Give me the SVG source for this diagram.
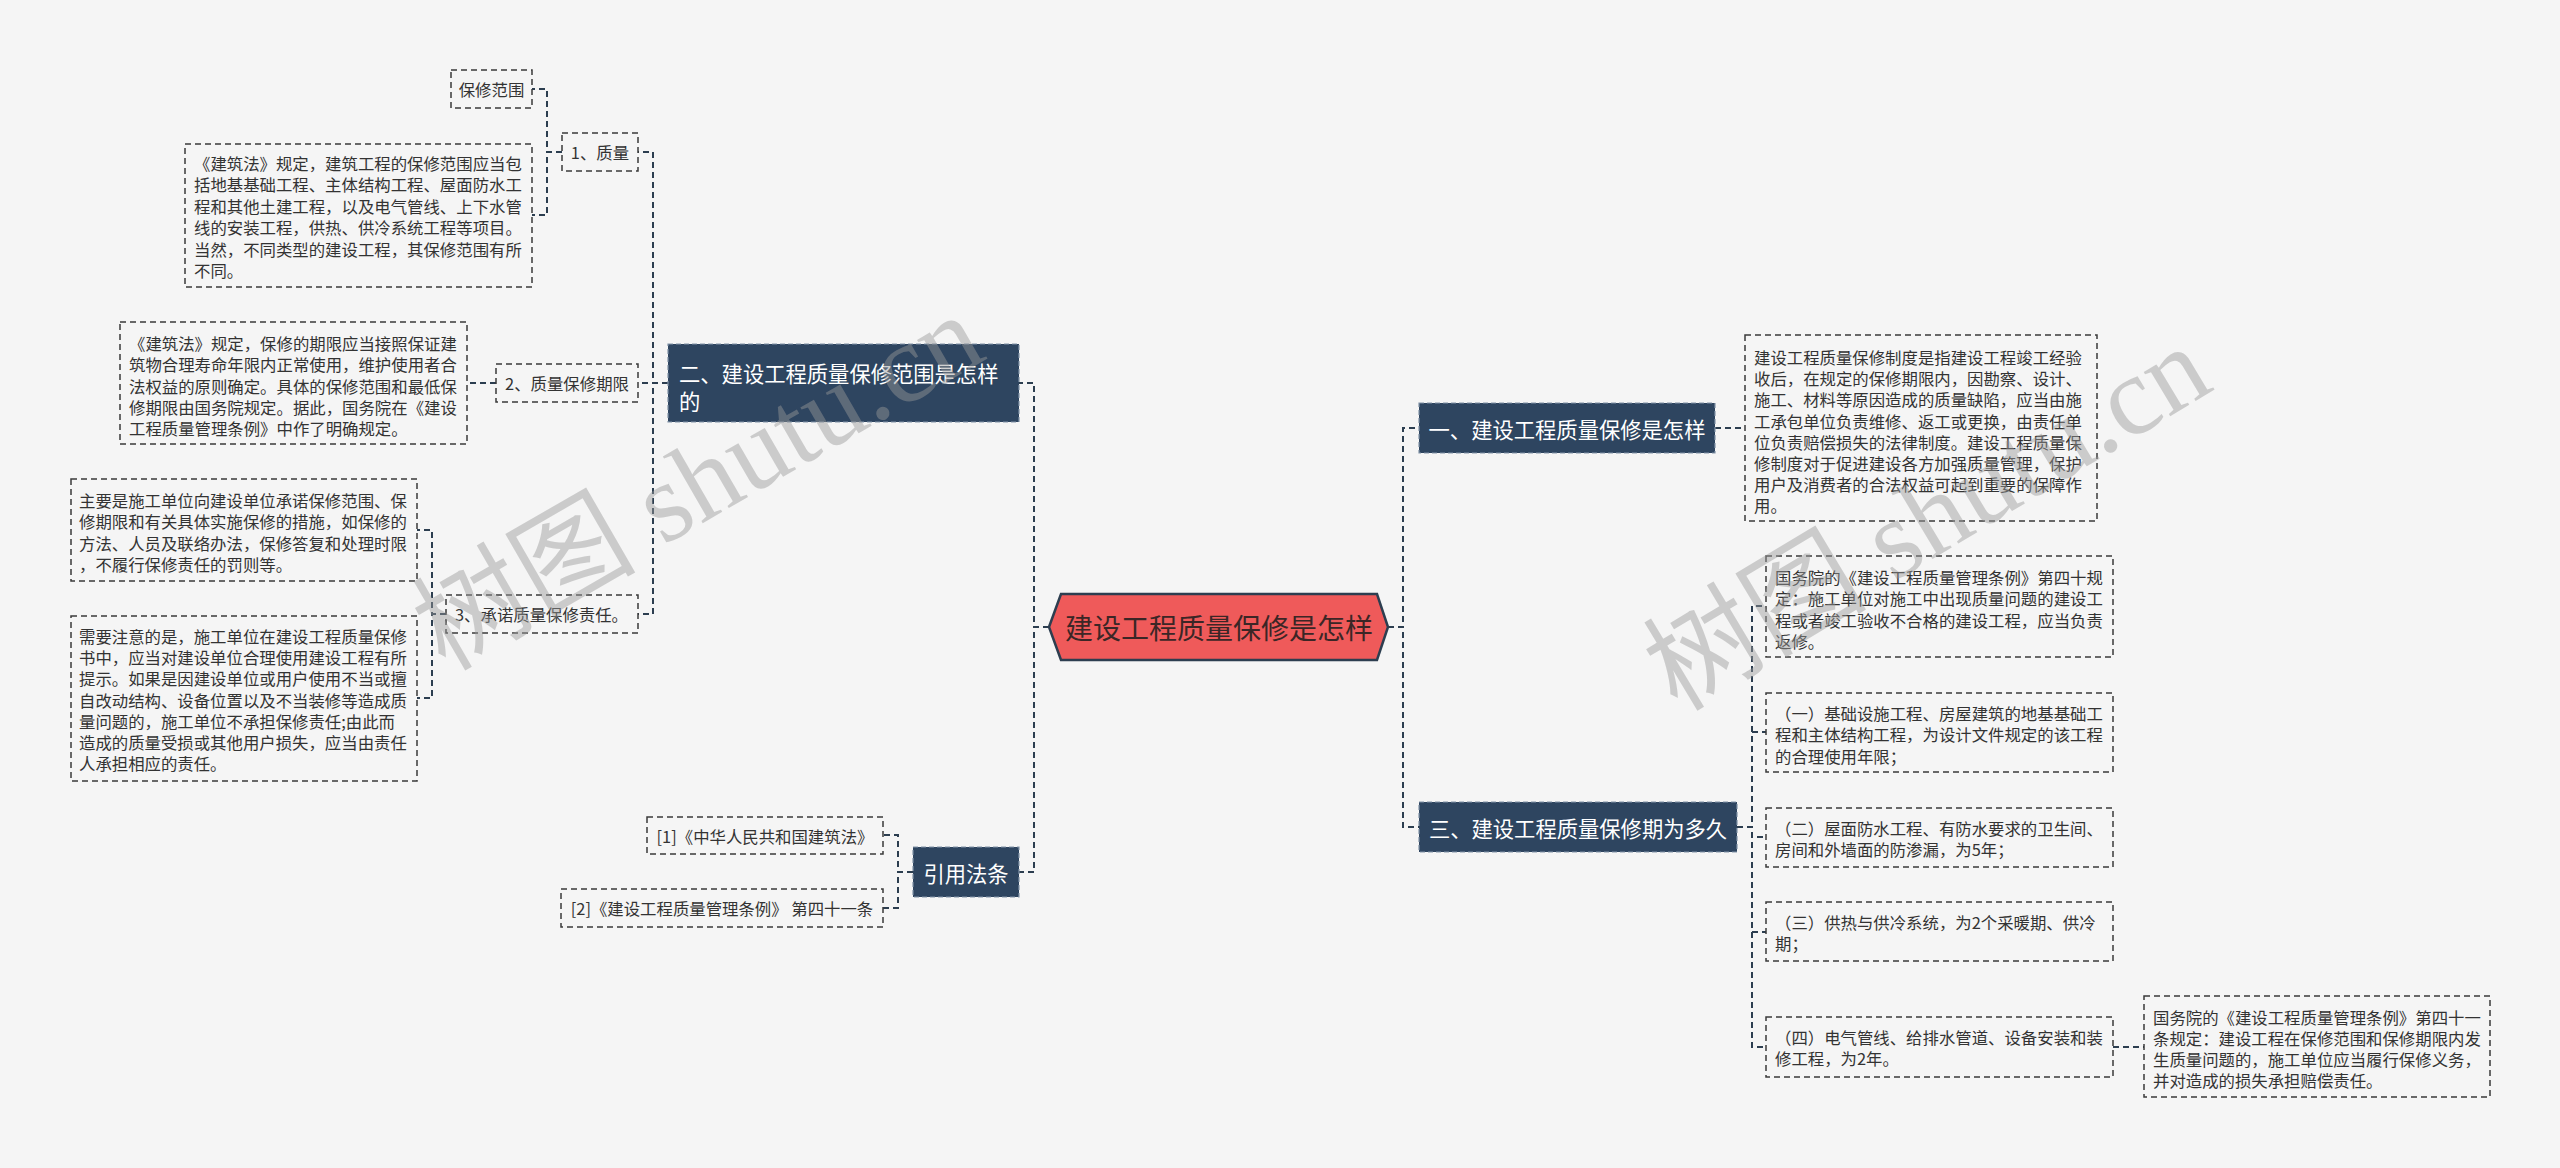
<svg xmlns="http://www.w3.org/2000/svg" width="2560" height="1168" viewBox="0 0 2560 1168">
<defs>
<style>
text{font-family:"Noto Sans CJK SC","Noto Sans",sans-serif;}
.leaf rect{fill:#f5f5f5;stroke:#3a3a3a;stroke-width:1.5;stroke-dasharray:6 4;}
.leaf text{font-size:16.4px;fill:#333;dominant-baseline:central;}
.mid{text-anchor:middle;}
.topic rect{fill:#2e4560;stroke:#8193a7;stroke-width:1.2;stroke-dasharray:5 3;}
.topic text{font-size:21.3px;fill:#fff;dominant-baseline:central;}
#connectors path{fill:none;stroke:#2c3e50;stroke-width:2;stroke-dasharray:6 4;}
.wm{font-family:"Liberation Serif","Noto Sans CJK SC",serif;font-size:112px;fill:#999;fill-opacity:0.45;text-anchor:middle;dominant-baseline:central;}
</style>
</defs>
<rect x="0" y="0" width="2560" height="1168" fill="#f5f5f5"/>

<g id="connectors">
<path d="M1049,627 H1034 V383 H1019"/>
<path d="M1049,627 H1034 V872 H1019"/>
<path d="M1388,627 H1403 V428 H1419"/>
<path d="M1388,627 H1403 V827 H1419"/>
<path d="M668,383 H653 V152 H638"/>
<path d="M668,383 H638"/>
<path d="M668,383 H653 V614 H638"/>
<path d="M562,152 H547 V89 H532"/>
<path d="M562,152 H547 V215 H532"/>
<path d="M496,383 H467"/>
<path d="M446,614 H432 V530 H417"/>
<path d="M446,614 H432 V698 H417"/>
<path d="M913,872 H898 V835 H883"/>
<path d="M913,872 H898 V908 H883"/>
<path d="M1715,428 H1745"/>
<path d="M1737,827 H1752 V606 H1766"/>
<path d="M1737,827 H1752 V732 H1766"/>
<path d="M1737,827 H1752 V837 H1766"/>
<path d="M1737,827 H1752 V932 H1766"/>
<path d="M1737,827 H1752 V1047 H1766"/>
<path d="M2113,1047 H2144"/>
</g>

<g id="center">
<polygon points="1049,627 1061,594 1377,594 1388,627 1377,660 1061,660" fill="#ef5a5a" stroke="#2d3e50" stroke-width="2.5"/>
<text x="1219" y="627" font-size="28" fill="#3b2626" text-anchor="middle" dominant-baseline="central">建设工程质量保修是怎样</text>
</g>

<g id="n-er" class="topic">
<rect x="668" y="344" width="351" height="78"/>
<text x="679" y="372">二、建设工程质量保修范围是怎样</text>
<text x="679" y="400">的</text>
</g>

<g id="n-zhiliang" class="leaf">
<rect x="562" y="133" width="76" height="38"/>
<text class="mid" x="600" y="152">1、质量</text>
</g>

<g id="n-fanwei" class="leaf">
<rect x="451" y="70" width="81" height="38"/>
<text class="mid" x="491.5" y="89">保修范围</text>
</g>

<g id="n-fanwei-text" class="leaf">
<rect x="185" y="144" width="347" height="143"/>
<text x="194" y="163">《建筑法》规定，建筑工程的保修范围应当包</text>
<text x="194" y="184.4">括地基基础工程、主体结构工程、屋面防水工</text>
<text x="194" y="205.8">程和其他土建工程，以及电气管线、上下水管</text>
<text x="194" y="227.2">线的安装工程，供热、供冷系统工程等项目。</text>
<text x="194" y="248.6">当然，不同类型的建设工程，其保修范围有所</text>
<text x="194" y="270">不同。</text>
</g>

<g id="n-qixian" class="leaf">
<rect x="496" y="364" width="142" height="38"/>
<text class="mid" x="567" y="383">2、质量保修期限</text>
</g>

<g id="n-qixian-text" class="leaf">
<rect x="120" y="322" width="347" height="122"/>
<text x="129" y="343">《建筑法》规定，保修的期限应当接照保证建</text>
<text x="129" y="364.3">筑物合理寿命年限内正常使用，维护使用者合</text>
<text x="129" y="385.6">法权益的原则确定。具体的保修范围和最低保</text>
<text x="129" y="406.9">修期限由国务院规定。据此，国务院在《建设</text>
<text x="129" y="428.2">工程质量管理条例》中作了明确规定。</text>
</g>

<g id="n-zeren" class="leaf">
<rect x="446" y="595" width="192" height="38"/>
<text x="455" y="614">3、承诺质量保修责任。</text>
</g>

<g id="n-zeren-a" class="leaf">
<rect x="71" y="479" width="346" height="102"/>
<text x="79" y="500">主要是施工单位向建设单位承诺保修范围、保</text>
<text x="79" y="521.3">修期限和有关具体实施保修的措施，如保修的</text>
<text x="79" y="542.6">方法、人员及联络办法，保修答复和处理时限</text>
<text x="79" y="564">，不履行保修责任的罚则等。</text>
</g>

<g id="n-zeren-b" class="leaf">
<rect x="71" y="616" width="346" height="165"/>
<text x="79" y="636">需要注意的是，施工单位在建设工程质量保修</text>
<text x="79" y="657.2">书中，应当对建设单位合理使用建设工程有所</text>
<text x="79" y="678.4">提示。如果是因建设单位或用户使用不当或擅</text>
<text x="79" y="699.6">自改动结构、设备位置以及不当装修等造成质</text>
<text x="79" y="720.8">量问题的，施工单位不承担保修责任;由此而</text>
<text x="79" y="742">造成的质量受损或其他用户损失，应当由责任</text>
<text x="79" y="763.2">人承担相应的责任。</text>
</g>

<g id="n-yinyong" class="topic">
<rect x="913" y="847" width="106" height="50"/>
<text class="mid" x="966" y="872">引用法条</text>
</g>

<g id="n-ref1" class="leaf">
<rect x="647" y="817" width="236" height="37"/>
<text class="mid" x="765" y="835.5">[1]《中华人民共和国建筑法》</text>
</g>

<g id="n-ref2" class="leaf">
<rect x="561" y="889" width="322" height="38"/>
<text class="mid" x="722" y="908">[2]《建设工程质量管理条例》 第四十一条</text>
</g>

<g id="n-yi" class="topic">
<rect x="1419" y="403" width="296" height="50"/>
<text class="mid" x="1567" y="428">一、建设工程质量保修是怎样</text>
</g>

<g id="n-yi-text" class="leaf">
<rect x="1745" y="335" width="352" height="186"/>
<text x="1754" y="357">建设工程质量保修制度是指建设工程竣工经验</text>
<text x="1754" y="378.2">收后，在规定的保修期限内，因勘察、设计、</text>
<text x="1754" y="399.4">施工、材料等原因造成的质量缺陷，应当由施</text>
<text x="1754" y="420.6">工承包单位负责维修、返工或更换，由责任单</text>
<text x="1754" y="441.8">位负责赔偿损失的法律制度。建设工程质量保</text>
<text x="1754" y="463">修制度对于促进建设各方加强质量管理，保护</text>
<text x="1754" y="484.2">用户及消费者的合法权益可起到重要的保障作</text>
<text x="1754" y="505.4">用。</text>
</g>

<g id="n-san" class="topic">
<rect x="1419" y="802" width="318" height="50"/>
<text class="mid" x="1578" y="827">三、建设工程质量保修期为多久</text>
</g>

<g id="n-san-a" class="leaf">
<rect x="1766" y="556" width="347" height="101"/>
<text x="1775" y="577">国务院的《建设工程质量管理条例》第四十规</text>
<text x="1775" y="598.3">定：施工单位对施工中出现质量问题的建设工</text>
<text x="1775" y="619.6">程或者竣工验收不合格的建设工程，应当负责</text>
<text x="1775" y="640.9">返修。</text>
</g>

<g id="n-san-b" class="leaf">
<rect x="1766" y="693" width="347" height="79"/>
<text x="1775" y="713">（一）基础设施工程、房屋建筑的地基基础工</text>
<text x="1775" y="734.3">程和主体结构工程，为设计文件规定的该工程</text>
<text x="1775" y="755.6">的合理使用年限；</text>
</g>

<g id="n-san-c" class="leaf">
<rect x="1766" y="808" width="347" height="59"/>
<text x="1775" y="827.5">（二）屋面防水工程、有防水要求的卫生间、</text>
<text x="1775" y="848.8">房间和外墙面的防渗漏，为5年；</text>
</g>

<g id="n-san-d" class="leaf">
<rect x="1766" y="902" width="347" height="59"/>
<text x="1775" y="921.5">（三）供热与供冷系统，为2个采暖期、供冷</text>
<text x="1775" y="942.8">期；</text>
</g>

<g id="n-san-e" class="leaf">
<rect x="1766" y="1017" width="347" height="60"/>
<text x="1775" y="1036.5">（四）电气管线、给排水管道、设备安装和装</text>
<text x="1775" y="1057.8">修工程，为2年。</text>
</g>

<g id="n-san-f" class="leaf">
<rect x="2144" y="996" width="346" height="101"/>
<text x="2153" y="1016.5">国务院的《建设工程质量管理条例》第四十一</text>
<text x="2153" y="1037.8">条规定：建设工程在保修范围和保修期限内发</text>
<text x="2153" y="1059.1">生质量问题的，施工单位应当履行保修义务，</text>
<text x="2153" y="1080.4">并对造成的损失承担赔偿责任。</text>
</g>

<g id="watermark">
<text class="wm" x="698" y="482" transform="rotate(-30 698 482)">树图 shutu.cn</text>
<text class="wm" x="1927" y="518" transform="rotate(-31 1927 518)">树图 shutu.cn</text>
</g>
</svg>
